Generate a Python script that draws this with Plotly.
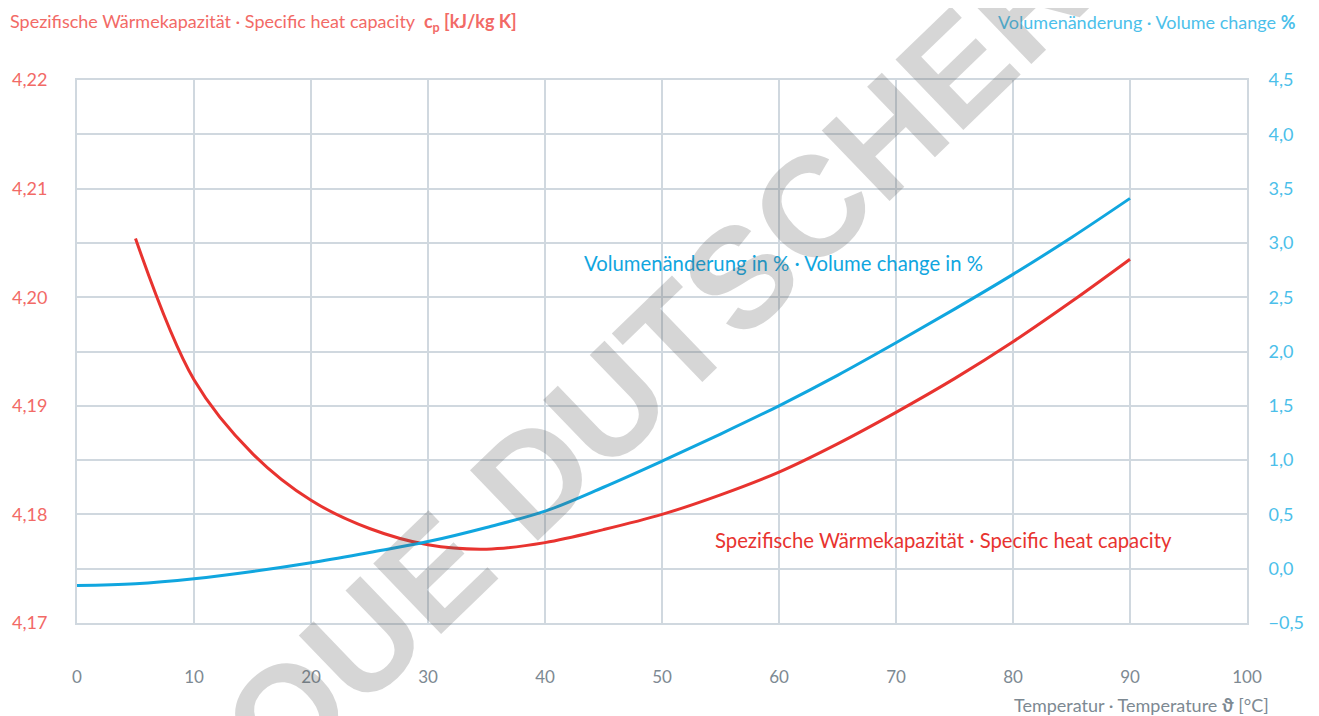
import plotly.graph_objects as go

# ---- data ----
temp_cp = [5, 10, 15, 20, 25, 30, 35, 40, 45, 50, 55, 60, 65, 70, 75, 80, 85, 90]
cp_values = [4.2054, 4.1924, 4.1856, 4.1813, 4.1787, 4.1772, 4.1768, 4.1774, 4.1786, 4.1800,
             4.1818, 4.1839, 4.1865, 4.1894, 4.1925, 4.1959, 4.1996, 4.2035]

temp_vol = [0, 5, 10, 15, 20, 25, 30, 35, 40, 45, 50, 55, 60, 65, 70, 75, 80, 85, 90]
vol_values = [-0.154, -0.138, -0.092, -0.025, 0.055, 0.15, 0.25, 0.38, 0.53, 0.75, 0.99,
              1.24, 1.50, 1.78, 2.08, 2.39, 2.71, 3.05, 3.41]

x_ticks = [0, 10, 20, 30, 40, 50, 60, 70, 80, 90, 100]
cp_ticks = [4.17, 4.18, 4.19, 4.20, 4.21, 4.22]
vol_ticks = [-0.5, 0.0, 0.5, 1.0, 1.5, 2.0, 2.5, 3.0, 3.5, 4.0, 4.5]

RED = "#e8332f"
RED_LIGHT = "#f26a66"
BLUE = "#10a6df"
BLUE_LIGHT = "#4cbfea"
GRAY = "#7d8992"
GRID = "#d0d8df"
FONT = "Lato"

# the page body adds an 8px offset; compensate
OFF = 8
FW, FH = 1319 - OFF, 716 - OFF

fig = go.Figure()
fig.add_trace(go.Scatter(x=temp_cp, y=cp_values, mode="lines", yaxis="y",
                         line=dict(color=RED, width=3, shape="spline", smoothing=1.0),
                         showlegend=False, hoverinfo="skip"))
fig.add_trace(go.Scatter(x=temp_vol, y=vol_values, mode="lines", yaxis="y2",
                         line=dict(color=BLUE, width=3, shape="spline", smoothing=1.0),
                         showlegend=False, hoverinfo="skip"))

fig.update_layout(
    width=FW, height=FH,
    margin=dict(l=77 - OFF, r=FW - (1247 - OFF), t=80 - OFF, b=FH - (623 - OFF), autoexpand=False),
    paper_bgcolor="white", plot_bgcolor="white",
    separators=",.",
    font=dict(family=FONT),
    xaxis=dict(range=[0, 100], tickvals=x_ticks, showgrid=True, gridcolor=GRID, gridwidth=2,
               zeroline=False, showline=True, linecolor=GRID, linewidth=2, mirror=True,
               ticks="", tickfont=dict(size=17, color=GRAY, family=FONT),
               ticklabelstandoff=38, automargin=False),
    yaxis=dict(range=[4.17, 4.22], tickvals=cp_ticks, tickformat=".2f", showgrid=False,
               zeroline=False, showline=True, linecolor=GRID, linewidth=2,
               ticks="", tickfont=dict(size=18, color=RED_LIGHT, family=FONT),
               ticklabelstandoff=24, automargin=False),
    yaxis2=dict(range=[-0.5, 4.5], tickvals=vol_ticks, tickformat=".1f", overlaying="y",
                side="right", showgrid=True, gridcolor=GRID, gridwidth=2, zeroline=False,
                showline=True, linecolor=GRID, linewidth=2,
                ticks="", tickfont=dict(size=18, color=BLUE_LIGHT, family=FONT),
                ticklabelstandoff=16, automargin=False),
)

W0, W = 77, 1170
H0, H = 623, 543
def px(x):
    return (x - W0) / W
def py(y):
    return (H0 - y) / H

annos = [
    dict(text="Spezifische Wärmekapazität · Specific heat capacity  <b>c<sub>p</sub> [kJ/kg K]</b>",
         x=px(8), y=py(22), xanchor="left", font=dict(size=18, color=RED_LIGHT)),
    dict(text="Volumenänderung · Volume change <b>%</b>",
         x=px(1298), y=py(22), xanchor="right", font=dict(size=18, color=BLUE_LIGHT)),
    dict(text="Temperatur · Temperature <b>ϑ</b> [°C]",
         x=px(1271), y=py(705), xanchor="right", font=dict(size=18, color=GRAY)),
    dict(text="Volumenänderung in % · Volume change in %",
         x=px(582), y=py(263), xanchor="left", font=dict(size=20.3, color=BLUE)),
    dict(text="Spezifische Wärmekapazität · Specific heat capacity",
         x=px(713), y=py(540), xanchor="left", font=dict(size=20.3, color=RED)),
]
for a in annos:
    fig.add_annotation(xref="paper", yref="paper", yanchor="middle", showarrow=False, **a)

# watermark
fig.add_annotation(xref="paper", yref="paper", x=px(655), y=py(358), xanchor="center",
                   yanchor="middle", showarrow=False, textangle=-44,
                   text="<b>QUE DUTSCHER</b>",
                   font=dict(size=142, color="rgba(90,90,90,0.25)", family="Liberation Sans"))

fig.write_html("out.html")
